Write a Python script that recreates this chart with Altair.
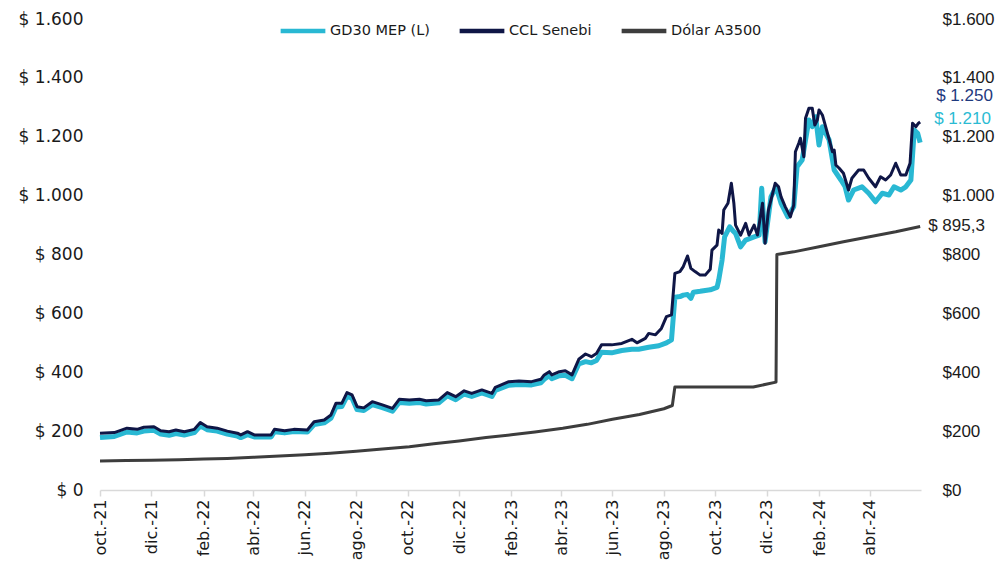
import altair as alt
import pandas as pd

series_names = ["GD30 MEP (L)", "CCL Senebi", "Dólar A3500"]
series_colors = ["#29B8D3", "#0F1646", "#3D3D3D"]

ccl_dates = [
    "2021-10-01", "2021-10-18", "2021-11-02", "2021-11-14", "2021-11-22", "2021-12-04",
    "2021-12-12", "2021-12-22", "2021-12-30", "2022-01-09", "2022-01-21", "2022-01-28",
    "2022-02-05", "2022-02-17", "2022-03-01", "2022-03-13", "2022-03-17", "2022-03-25",
    "2022-04-02", "2022-04-22", "2022-04-26", "2022-05-08", "2022-05-19", "2022-06-04",
    "2022-06-12", "2022-06-24", "2022-07-02", "2022-07-08", "2022-07-15", "2022-07-21",
    "2022-07-27", "2022-08-02", "2022-08-10", "2022-08-20", "2022-09-01", "2022-09-13",
    "2022-09-21", "2022-10-03", "2022-10-15", "2022-10-23", "2022-11-07", "2022-11-17",
    "2022-11-27", "2022-12-07", "2022-12-16", "2022-12-28", "2023-01-09", "2023-01-13",
    "2023-01-29", "2023-02-10", "2023-02-25", "2023-03-08", "2023-03-12", "2023-03-18",
    "2023-03-21", "2023-03-30", "2023-04-06", "2023-04-14", "2023-04-22", "2023-04-30",
    "2023-05-07", "2023-05-13", "2023-05-19", "2023-05-31", "2023-06-12", "2023-06-24",
    "2023-06-30", "2023-07-10", "2023-07-14", "2023-07-22", "2023-07-29", "2023-08-04",
    "2023-08-10", "2023-08-14", "2023-08-20", "2023-08-24", "2023-08-29", "2023-09-02",
    "2023-09-07", "2023-09-13", "2023-09-19", "2023-09-25", "2023-09-27", "2023-10-03",
    "2023-10-05", "2023-10-09", "2023-10-11", "2023-10-16", "2023-10-20", "2023-10-23",
    "2023-10-25", "2023-10-31", "2023-11-06", "2023-11-10", "2023-11-16", "2023-11-20",
    "2023-11-26", "2023-11-29", "2023-12-03", "2023-12-11", "2023-12-15", "2023-12-18",
    "2023-12-23", "2023-12-29", "2024-01-02", "2024-01-04", "2024-01-08", "2024-01-10",
    "2024-01-14", "2024-01-16", "2024-01-20", "2024-01-24", "2024-01-27", "2024-01-30",
    "2024-02-01", "2024-02-05", "2024-02-11", "2024-02-17", "2024-02-19", "2024-02-21",
    "2024-02-25", "2024-03-01", "2024-03-07", "2024-03-11", "2024-03-19", "2024-03-25",
    "2024-03-31", "2024-04-08", "2024-04-14", "2024-04-20", "2024-04-26", "2024-05-02",
    "2024-05-08", "2024-05-14", "2024-05-19", "2024-05-22", "2024-05-26", "2024-05-29",
    "2024-05-31",
]
ccl_values = [
    193, 195, 210, 206, 213, 215,
    201, 198, 204, 198, 206, 229,
    215, 210, 200, 193, 187, 198,
    187, 187, 206, 201, 206, 204,
    232, 238, 255, 295, 295, 331,
    323, 283, 279, 300, 289, 277,
    308, 306, 308, 303, 306, 331,
    317, 337, 328, 340, 328, 349,
    368, 370, 368, 376, 391, 402,
    391, 402, 405, 391, 444, 462,
    453, 464, 493, 493, 498, 512,
    500, 515, 532, 527, 549, 589,
    595, 736, 742, 759, 795, 753,
    742, 730, 730, 750, 815, 832,
    883, 872, 951, 974, 1042, 974,
    900, 866, 906, 866, 900, 866,
    974, 838, 951, 1042, 1030, 996,
    962, 928, 968, 1149, 1178, 1195,
    1132, 1263, 1297, 1297, 1240, 1257,
    1291, 1274, 1212, 1149, 1155, 1104,
    1093, 1076, 1019, 1059, 1087, 1087,
    1059, 1030, 1064, 1053, 1070, 1110,
    1070, 1070, 1110, 1246, 1234, 1246,
    1250,
]

mep_dates = [
    "2021-10-01", "2021-10-18", "2021-11-02", "2021-11-14", "2021-11-22", "2021-12-04",
    "2021-12-12", "2021-12-22", "2021-12-30", "2022-01-09", "2022-01-21", "2022-01-28",
    "2022-02-05", "2022-02-17", "2022-03-01", "2022-03-13", "2022-03-17", "2022-03-25",
    "2022-04-02", "2022-04-22", "2022-04-26", "2022-05-08", "2022-05-19", "2022-06-04",
    "2022-06-12", "2022-06-24", "2022-07-02", "2022-07-08", "2022-07-15", "2022-07-21",
    "2022-07-27", "2022-08-02", "2022-08-10", "2022-08-20", "2022-09-01", "2022-09-13",
    "2022-09-21", "2022-10-03", "2022-10-15", "2022-10-23", "2022-11-07", "2022-11-17",
    "2022-11-27", "2022-12-07", "2022-12-16", "2022-12-28", "2023-01-09", "2023-01-13",
    "2023-01-29", "2023-02-10", "2023-02-25", "2023-03-08", "2023-03-12", "2023-03-18",
    "2023-03-21", "2023-03-30", "2023-04-06", "2023-04-14", "2023-04-22", "2023-04-30",
    "2023-05-07", "2023-05-13", "2023-05-19", "2023-05-31", "2023-06-12", "2023-06-24",
    "2023-07-02", "2023-07-14", "2023-07-26", "2023-08-04", "2023-08-10", "2023-08-14",
    "2023-08-20", "2023-08-24", "2023-08-29", "2023-09-02", "2023-09-05", "2023-09-13",
    "2023-09-19", "2023-09-25", "2023-10-03", "2023-10-05", "2023-10-09", "2023-10-12",
    "2023-10-18", "2023-10-22", "2023-10-25", "2023-10-31", "2023-11-06", "2023-11-16",
    "2023-11-22", "2023-11-25", "2023-11-29", "2023-12-06", "2023-12-12", "2023-12-18",
    "2023-12-26", "2024-01-02", "2024-01-06", "2024-01-12", "2024-01-20", "2024-01-24",
    "2024-01-28", "2024-02-01", "2024-02-05", "2024-02-13", "2024-02-19", "2024-02-27",
    "2024-03-03", "2024-03-07", "2024-03-13", "2024-03-23", "2024-03-31", "2024-04-08",
    "2024-04-16", "2024-04-24", "2024-04-30", "2024-05-08", "2024-05-14", "2024-05-20",
    "2024-05-24", "2024-05-28", "2024-05-31",
]
mep_values = [
    178, 182, 197, 194, 200, 203,
    190, 186, 192, 187, 195, 218,
    205, 200, 190, 183, 178, 188,
    180, 180, 198, 194, 199, 197,
    222, 228, 244, 282, 284, 318,
    312, 273, 270, 290, 280, 268,
    297, 295, 297, 292, 296, 320,
    307, 326, 318, 330, 318, 338,
    356, 358, 357, 364, 376, 388,
    378, 388, 390, 378, 428, 436,
    432, 440, 468, 466, 474, 478,
    478, 485, 490, 500, 510, 655,
    657, 662, 664, 651, 672, 675,
    678, 680, 688, 713, 781, 860,
    894, 880, 872, 826, 849, 860,
    866, 1025, 843, 996, 1030, 974,
    928, 962, 1098, 1121, 1257, 1234,
    1268, 1172, 1234, 1189, 1087, 1053,
    1030, 985, 1019, 1030, 1008, 979,
    1008, 1002, 1030, 1019, 1030, 1053,
    1223, 1212, 1180,
]

a3500_dates = [
    "2021-10-01", "2021-11-01", "2021-12-01", "2022-01-03", "2022-02-01", "2022-03-01",
    "2022-04-01", "2022-05-02", "2022-06-01", "2022-07-01", "2022-08-01", "2022-09-01",
    "2022-10-03", "2022-11-01", "2022-12-01", "2023-01-02", "2023-02-01", "2023-03-01",
    "2023-04-03", "2023-05-02", "2023-06-01", "2023-07-03", "2023-08-01", "2023-08-11",
    "2023-08-14", "2023-11-15", "2023-12-12", "2023-12-13", "2024-01-02", "2024-02-01",
    "2024-03-01", "2024-04-01", "2024-05-02", "2024-05-31",
]
a3500_values = [
    98.7, 99.8, 101.2, 102.8, 105.0, 107.0,
    111.0, 115.5, 119.9, 125.2, 131.3, 139.0,
    147.3, 157.2, 166.5, 178.1, 187.3, 197.4,
    209.6, 223.0, 240.1, 256.7, 276.0, 287.0,
    350.0, 350.0, 366.5, 800.0, 809.0, 826.0,
    843.0, 860.0, 877.0, 895.3,
]

end_labels = ["$ 1.210", "$ 1.250", "$ 895,3"]
end_label_colors = ["#2BBBD3", "#1F3A7E", "#222222"]

y_ticks = [0, 200, 400, 600, 800, 1000, 1200, 1400, 1600]
tick_months = [
    (2021, 10), (2021, 12), (2022, 2), (2022, 4), (2022, 6), (2022, 8), (2022, 10), (2022, 12),
    (2023, 2), (2023, 4), (2023, 6), (2023, 8), (2023, 10), (2023, 12), (2024, 2), (2024, 4)]

rows = []
for name, ds, vs in zip(series_names, [mep_dates, ccl_dates, a3500_dates],
                        [mep_values, ccl_values, a3500_values]):
    for d, v in zip(ds, vs):
        rows.append({"serie": name, "fecha": d, "valor": v})
df = pd.DataFrame(rows)

lab_rows = []
for name, ds, vs, t in zip(series_names, [mep_dates, ccl_dates, a3500_dates],
                           [mep_values, ccl_values, a3500_values], end_labels):
    lab_rows.append({"serie": name, "fecha": ds[-1], "valor": vs[-1], "texto": t})
labdf = pd.DataFrame(lab_rows)

FONT = "DejaVu Sans"
FONT_R = "Liberation Sans"

x_enc = alt.X(
    "fecha:T",
    title=None,
    scale=alt.Scale(type="utc",
                    domain=[alt.DateTime(year=2021, month=10, date=1, utc=True),
                            alt.DateTime(year=2024, month=6, date=1, utc=True)]),
    axis=alt.Axis(
        values=[alt.DateTime(year=y, month=m, date=1, utc=True) for y, m in tick_months],
        labelExpr="['ene.','feb.','mar.','abr.','may.','jun.','jul.','ago.','sept.','oct.','nov.','dic.'][utcmonth(datum.value)] + '-' + utcFormat(datum.value, '%y')",
        labelAngle=-90, labelAlign="right", labelBaseline="middle",
        labelFont=FONT, labelFontSize=16, labelColor="#1a1a1a", labelPadding=3,
        domainColor="#D9D9D9", domainWidth=1.5, tickColor="#D9D9D9", tickSize=6, tickWidth=1.5,
        grid=False, labelOverlap=False, labelFlush=False,
    ),
)

y_scale = alt.Scale(domain=[0, 1600], nice=False, zero=True)

left_axis = alt.Axis(
    values=y_ticks,
    labelExpr="'$ ' + replace(format(datum.value, ','), ',', '.')",
    labelFont=FONT, labelFontSize=17, labelColor="#1a1a1a", labelPadding=17,
    domain=False, ticks=False, grid=False, title=None,
)
right_axis = alt.Axis(
    orient="right",
    values=y_ticks,
    labelExpr="'$' + replace(format(datum.value, ','), ',', '.')",
    labelFont=FONT_R, labelFontSize=17, labelColor="#1a1a1a", labelPadding=21,
    domain=False, ticks=False, grid=False, title=None,
)

color_enc = alt.Color(
    "serie:N",
    scale=alt.Scale(domain=series_names, range=series_colors),
    legend=alt.Legend(
        title=None, orient="none", direction="horizontal", legendX=178, legendY=-13,
        symbolType="stroke", symbolSize=2000, symbolStrokeWidth=4.5,
        labelFont=FONT, labelFontSize=14.5, labelColor="#1a1a1a", labelOffset=2,
        columnPadding=20,
    ),
)

base = alt.Chart(df)
widths = [5, 3, 3]
lines = []
for i, name in enumerate(series_names):
    lines.append(
        base.transform_filter(alt.datum.serie == name)
        .mark_line(strokeWidth=widths[i], strokeJoin="round", interpolate="linear")
        .encode(x=x_enc, y=alt.Y("valor:Q", scale=y_scale, axis=left_axis),
                color=color_enc)
    )
left_group = alt.layer(*lines)

label_offsets = [(14, -24), (16, -26), (8, 0)]
labels = []
for i, name in enumerate(series_names):
    dx, dy = label_offsets[i]
    labels.append(
        alt.Chart(labdf).transform_filter(alt.datum.serie == name)
        .mark_text(align="left", baseline="middle", dx=dx, dy=dy, font=FONT_R, fontSize=17,
                   color=end_label_colors[i])
        .encode(x=x_enc, y=alt.Y("valor:Q", scale=y_scale, axis=right_axis),
                text="texto:N")
    )
right_group = alt.layer(*labels)

chart = (
    alt.layer(left_group, right_group)
    .resolve_scale(y="independent")
    .properties(
        width=821, height=471,
        autosize=alt.AutoSizeParams(type="none"),
        padding={"left": 92, "top": 11, "right": 74, "bottom": 70},
        background="white",
    )
    .configure_view(strokeWidth=0)
)

chart.save("out.html", embed_options={"renderer": "svg", "actions": False})
